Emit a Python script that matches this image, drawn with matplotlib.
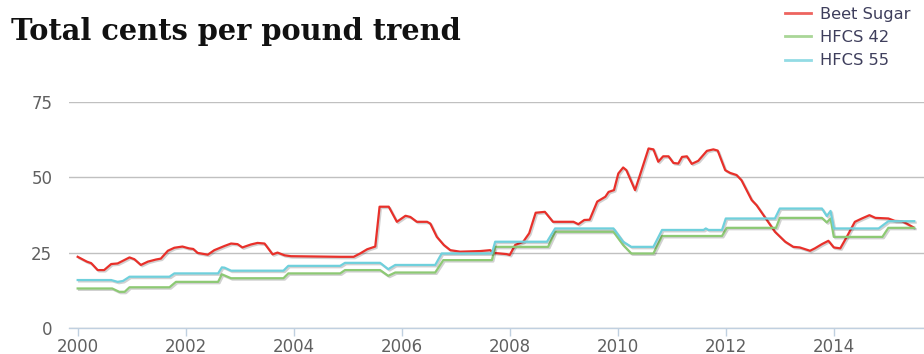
import matplotlib.pyplot as plt
import matplotlib.patheffects as pe

# Beet sugar price, cents per pound (decimal year, value)
beet_years = [2000.0, 2000.17, 2000.25, 2000.37, 2000.49, 2000.62, 2000.74, 2000.84, 2000.96,
              2001.05, 2001.17, 2001.30, 2001.45, 2001.54, 2001.67, 2001.79, 2001.94, 2002.06,
              2002.14, 2002.22, 2002.41, 2002.53, 2002.72, 2002.84, 2002.96, 2003.05, 2003.21,
              2003.33, 2003.46, 2003.61, 2003.70, 2003.83, 2003.95, 2004.87, 2005.11, 2005.23,
              2005.36, 2005.51, 2005.59, 2005.76, 2005.91, 2006.07, 2006.16, 2006.28, 2006.47,
              2006.53, 2006.65, 2006.78, 2006.90, 2007.08, 2007.45, 2007.64, 2007.70, 2007.94,
              2008.0, 2008.10, 2008.25, 2008.36, 2008.48, 2008.65, 2008.80, 2009.18, 2009.27,
              2009.38, 2009.48, 2009.62, 2009.77, 2009.83, 2009.93, 2010.01, 2010.10, 2010.16,
              2010.32, 2010.44, 2010.57, 2010.66, 2010.75, 2010.84, 2010.94, 2011.03, 2011.12,
              2011.19, 2011.28, 2011.37, 2011.49, 2011.65, 2011.77, 2011.85, 2011.99, 2012.08,
              2012.20, 2012.29, 2012.48, 2012.57, 2012.76, 2012.91, 2013.10, 2013.25, 2013.37,
              2013.56, 2013.65, 2013.78, 2013.90, 2014.0, 2014.12, 2014.24, 2014.39, 2014.52,
              2014.66, 2014.77, 2015.01, 2015.13, 2015.26, 2015.35, 2015.47]
beet_vals = [23.6, 22.0, 21.5, 19.2, 19.2, 21.2, 21.4, 22.3, 23.4,
             22.8, 20.9, 22.0, 22.7, 23.0, 25.6, 26.6, 27.0, 26.4,
             26.2, 24.9, 24.3, 25.8, 27.2, 28.0, 27.8, 26.7, 27.7,
             28.2, 28.0, 24.4, 25.0, 24.1, 23.8, 23.6, 23.6, 24.7,
             26.1, 27.0, 40.2, 40.2, 35.2, 37.2, 36.8, 35.2, 35.2,
             34.6, 30.2, 27.5, 25.8, 25.3, 25.5, 25.8, 24.9, 24.5,
             24.2, 27.5, 28.6, 31.4, 38.2, 38.5, 35.2, 35.2, 34.4,
             35.8, 35.9, 41.9, 43.5, 45.1, 45.7, 51.2, 53.2, 52.3,
             45.7, 52.3, 59.5, 59.2, 55.1, 56.9, 56.9, 54.7, 54.5,
             56.7, 56.9, 54.4, 55.4, 58.7, 59.2, 58.8, 52.3, 51.4,
             50.7, 49.0, 42.4, 40.7, 35.8, 31.9, 28.6, 26.9, 26.7,
             25.6, 26.4, 27.8, 28.9, 26.7, 26.4, 30.2, 35.2, 36.3,
             37.4, 36.5, 36.3, 35.5, 35.4, 34.6, 33.4]

# HFCS 42 price
hfcs42_years = [2000.0, 2000.64, 2000.77, 2000.87, 2000.96, 2001.70, 2001.82, 2002.60, 2002.67,
                2002.84, 2003.81, 2003.90, 2004.86, 2004.95, 2005.60, 2005.75, 2005.88, 2006.62,
                2006.77, 2007.67, 2007.73, 2008.71, 2008.84, 2009.92, 2010.10, 2010.25, 2010.66,
                2010.82, 2011.93, 2012.02, 2012.93, 2013.0, 2013.78, 2013.87, 2013.94, 2014.0,
                2014.90, 2015.01, 2015.49]
hfcs42_vals = [13.1, 13.1, 12.0, 12.0, 13.5, 13.5, 15.3, 15.3, 17.8,
               16.5, 16.5, 18.1, 18.1, 19.2, 19.2, 17.3, 18.4, 18.4,
               22.5, 22.5, 26.9, 26.9, 31.9, 31.9, 27.5, 24.7, 24.7,
               30.5, 30.5, 33.2, 33.2, 36.5, 36.5, 35.0, 36.3, 30.2,
               30.2, 33.2, 33.2]

# HFCS 55 price
hfcs55_years = [2000.0, 2000.62, 2000.74, 2000.84, 2000.96, 2001.70, 2001.79, 2002.60, 2002.67,
                2002.72, 2002.84, 2003.81, 2003.90, 2004.86, 2004.95, 2005.60, 2005.75, 2005.88,
                2006.62, 2006.74, 2007.67, 2007.73, 2008.69, 2008.84, 2009.92, 2010.10, 2010.25,
                2010.66, 2010.82, 2011.59, 2011.63, 2011.68, 2011.93, 2012.0, 2012.91, 2013.0,
                2013.78, 2013.87, 2013.94, 2014.0, 2014.83, 2015.01, 2015.49]
hfcs55_vals = [15.9, 15.9, 15.3, 15.6, 17.0, 17.0, 18.1, 18.1, 20.1,
               20.0, 19.0, 19.0, 20.6, 20.6, 21.6, 21.6, 19.5, 20.9,
               20.9, 24.7, 24.7, 28.6, 28.6, 33.0, 33.0, 28.6, 26.9,
               26.9, 32.5, 32.5, 33.0, 32.5, 32.5, 36.3, 36.3, 39.6,
               39.6, 37.1, 38.8, 33.0, 33.0, 35.4, 35.4]

series = [
    ("Beet Sugar", beet_years, beet_vals, "#e8302a"),
    ("HFCS 42", hfcs42_years, hfcs42_vals, "#8dc974"),
    ("HFCS 55", hfcs55_years, hfcs55_vals, "#6fd0dc"),
]

fig = plt.figure(figsize=(9.24, 3.54), dpi=100)
ax = fig.add_axes([0.0747, 0.0734, 0.9253, 0.6393])

shadow = [pe.SimpleLineShadow(offset=(1, -1), shadow_color="black", alpha=0.18),
          pe.Normal()]
for name, xs, ys, color in series:
    ax.plot(xs, ys, color=color, lw=1.6, label=name, path_effects=shadow,
            solid_joinstyle="round")

ax.set_xlim(1999.84, 2015.67)
ax.set_ylim(0, 75)
ax.set_yticks([0, 25, 50, 75])
ax.set_xticks(range(2000, 2015, 2))
ax.grid(axis="y", color="#c0c0c0", lw=1)
ax.set_axisbelow(True)
for side in ("left", "right", "top"):
    ax.spines[side].set_visible(False)
ax.spines["bottom"].set_color("#c0d0e0")
ax.spines["bottom"].set_linewidth(1)
ax.tick_params(axis="x", colors="#c0d0e0", length=6, width=1, labelcolor="#606060",
               labelsize=12, pad=1)
ax.tick_params(axis="y", length=0, labelcolor="#606060", labelsize=12, pad=12)

fig.text(0.012, 0.887, "Total cents per pound trend", family="DejaVu Serif",
         fontweight="bold", fontsize=20.8, color="#111111")

leg = ax.legend(loc="upper left", bbox_to_anchor=(0.842, 1.0), bbox_transform=fig.transFigure,
                frameon=False, fontsize=11.7, handlelength=1.6, handletextpad=0.6,
                labelspacing=0.52, borderaxespad=0.0)
for line in leg.get_lines():
    line.set_alpha(0.75)
    line.set_linewidth(2)
    line.set_path_effects([])
for text in leg.get_texts():
    text.set_color("#3e3e5c")

fig.savefig("out.png", dpi=100)
